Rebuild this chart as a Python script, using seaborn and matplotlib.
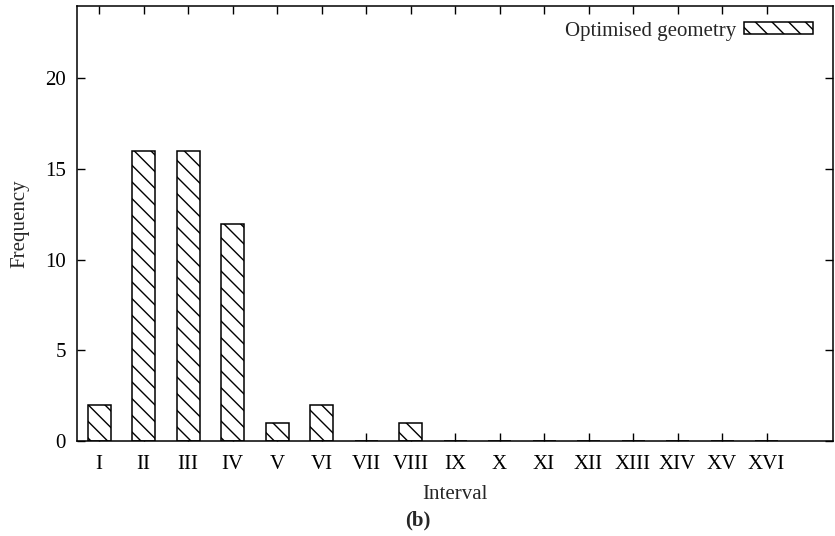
import matplotlib
matplotlib.use("Agg")
import matplotlib.pyplot as plt
import seaborn as sns
import pandas as pd

# data
intervals = ["I", "II", "III", "IV", "V", "VI", "VII", "VIII",
             "IX", "X", "XI", "XII", "XIII", "XIV", "XV", "XVI"]
frequency = [2, 16, 16, 12, 1, 2, 0, 1, 0, 0, 0, 0, 0, 0, 0, 0]
series_name = "Optimised geometry"

df = pd.DataFrame({"Interval": intervals, "Frequency": frequency})

sns.set_theme(style="ticks")
plt.rcParams['font.family'] = ['Liberation Serif', 'DejaVu Serif']
plt.rcParams['hatch.linewidth'] = 1.0
plt.rcParams['axes.linewidth'] = 1.1

fs = 15

fig = plt.figure(figsize=(8.35, 5.36), dpi=100)
ax = fig.add_axes([0.092, 0.177, 0.906, 0.812])

sns.barplot(data=df, x="Interval", y="Frequency", ax=ax, width=0.52,
            color="white", edgecolor="black", linewidth=1.1,
            hatch="\\\\", label=series_name)

ax.set_xlim(-0.5, 16.5)
ax.set_ylim(0, 24)
ax.set_yticks([0, 5, 10, 15, 20])
ax.tick_params(direction="in", length=6, width=1.0, labelsize=fs,
               top=True, right=True, colors="black")
ax.tick_params(axis="x", pad=10)
ax.tick_params(axis="y", pad=8)
ax.set_xlabel("Interval", fontsize=fs, labelpad=8)
ax.set_ylabel("Frequency", fontsize=fs, labelpad=11)
for s in ax.spines.values():
    s.set_color("black")

leg = ax.legend(loc="upper right", frameon=False, fontsize=fs, markerfirst=False,
                handlelength=3.3, handleheight=0.5, handletextpad=0.4,
                borderaxespad=0.35, bbox_to_anchor=(0.994, 1.0))

fig.text(0.5, 0.02, "(b)", ha="center", fontsize=fs, fontweight="bold")

fig.savefig("out.png", dpi=100)
